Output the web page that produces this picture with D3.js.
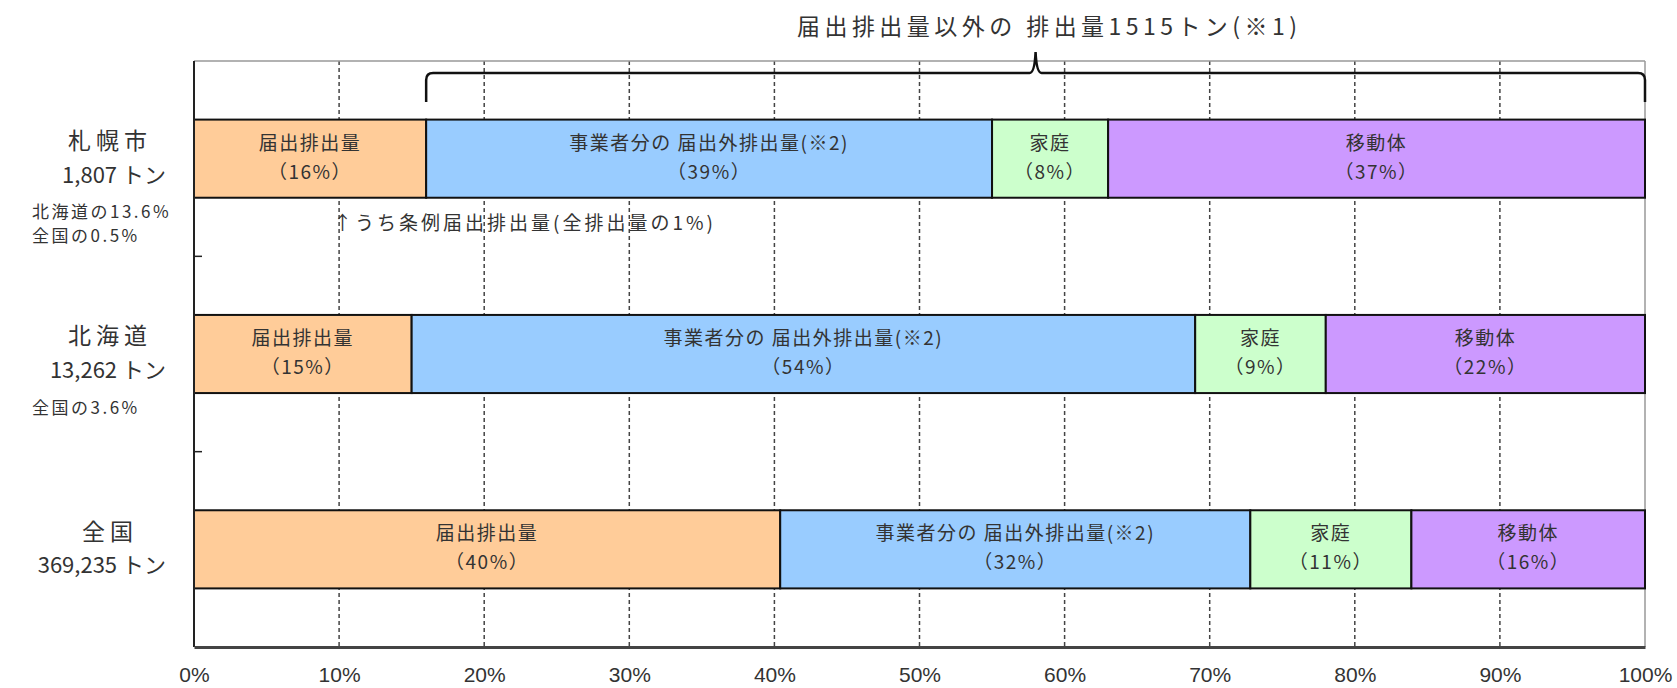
<!DOCTYPE html>
<html>
<head>
<meta charset="utf-8">
<script src="https://cdn.jsdelivr.net/npm/d3@7"></script>
<style>
body { margin: 0; background: #fff; }
text { font-family: "Noto Sans CJK JP", "Noto Sans", sans-serif; fill: #333; }
</style>
</head>
<body>
<div id="vis"></div>
<script>
var width = 1677,
    height = 688;

// data
var regions = ["札幌市", "北海道", "全国"];
var totals = ["1,807 トン", "13,262 トン", "369,235 トン"];
var notes = [["北海道の13.6%", "全国の0.5%"], ["全国の3.6%"], []];
var sources = ["届出排出量", "事業者分の 届出外排出量(※2)", "家庭", "移動体"];
var sapporo = [16, 39, 8, 37];
var hokkaido = [15, 54, 9, 22];
var zenkoku = [40.4, 32.4, 11.1, 16.1];
var tickValues = [0, 10, 20, 30, 40, 50, 60, 70, 80, 90, 100];
var bracketText = "届出排出量以外の 排出量1515トン(※1)";
var noteText = "↑うち条例届出排出量(全排出量の1%)";
var noteAt = 10;

var colors = ["#FFCC99", "#99CCFF", "#CCFFCC", "#CC99FF"];

var plotLeft = 194, plotRight = 1645, plotTop = 61, plotBottom = 647;

var svg = d3.select("#vis").append("svg")
    .attr("width", width)
    .attr("height", height);

var x = d3.scaleLinear().domain([0, 100]).range([plotLeft, plotRight]);
var y = d3.scaleBand().domain(regions).range([plotTop, plotBottom]).paddingInner(0.6).paddingOuter(0.3);

var rows = [sapporo, hokkaido, zenkoku];

// gridlines
svg.append("g")
    .selectAll("line")
    .data(tickValues.slice(1, -1))
    .enter().append("line")
    .attr("x1", d => x(d)).attr("x2", d => x(d))
    .attr("y1", plotTop).attr("y2", plotBottom)
    .style("stroke", "#444")
    .style("stroke-width", 1.5)
    .style("stroke-dasharray", "4,3");

// plot frame
svg.append("line").attr("x1", plotLeft).attr("x2", plotRight).attr("y1", plotTop).attr("y2", plotTop)
    .style("stroke", "#999").style("stroke-width", 1.5);
svg.append("line").attr("x1", plotRight).attr("x2", plotRight).attr("y1", plotTop).attr("y2", plotBottom)
    .style("stroke", "#999").style("stroke-width", 1.5);

// bars
rows.forEach(function(vals, r) {
    var start = 0;
    var segs = vals.map(function(v, i) {
        var s = {x0: start, x1: start + v, v: v, i: i};
        start += v;
        return s;
    });
    var g = svg.append("g");
    g.selectAll("rect")
        .data(segs)
        .enter().append("rect")
        .attr("x", d => x(d.x0))
        .attr("y", y(regions[r]))
        .attr("width", d => x(d.x1) - x(d.x0))
        .attr("height", y.bandwidth())
        .style("fill", d => colors[d.i])
        .style("stroke", "#111")
        .style("stroke-width", 2);

    var cy = y(regions[r]) + y.bandwidth() / 2;
    var lab = g.selectAll(".lab")
        .data(segs)
        .enter().append("text")
        .attr("class", "lab")
        .attr("text-anchor", "middle")
        .style("font-size", "19px")
        .style("letter-spacing", "1.5px");
    lab.append("tspan")
        .attr("x", d => (x(d.x0) + x(d.x1)) / 2)
        .attr("y", cy - 14)
        .attr("dominant-baseline", "middle")
        .text(d => sources[d.i]);
    lab.append("tspan")
        .attr("x", d => (x(d.x0) + x(d.x1)) / 2)
        .attr("y", cy + 15)
        .attr("dominant-baseline", "middle")
        .text(d => "（" + Math.round(d.v) + "%）");

    // region labels
    svg.append("text")
        .attr("x", 110).attr("y", cy - 16)
        .attr("text-anchor", "middle")
        .attr("dominant-baseline", "middle")
        .style("font-size", "23px")
        .style("letter-spacing", "5px")
        .text(regions[r]);
    svg.append("text")
        .attr("x", 166).attr("y", cy + 18)
        .attr("text-anchor", "end")
        .attr("dominant-baseline", "middle")
        .style("font-size", "22px")
        .text(totals[r]);
    notes[r].forEach(function(n, k) {
        svg.append("text")
            .attr("x", 32).attr("y", cy + 55 + k * 24)
            .attr("dominant-baseline", "middle")
            .style("font-size", "17px")
            .style("letter-spacing", "2.5px")
            .text(n);
    });
});

// left axis with inward ticks
svg.append("line").attr("x1", plotLeft).attr("x2", plotLeft).attr("y1", plotTop).attr("y2", plotBottom)
    .style("stroke", "#222").style("stroke-width", 2);
svg.selectAll(".ytick")
    .data(regions.slice(1))
    .enter().append("line")
    .attr("class", "ytick")
    .attr("x1", plotLeft).attr("x2", plotLeft + 8)
    .attr("y1", d => y(d) - (y.step() - y.bandwidth()) / 2)
    .attr("y2", d => y(d) - (y.step() - y.bandwidth()) / 2)
    .style("stroke", "#222").style("stroke-width", 1.5);

// bottom axis
var xAxis = d3.axisBottom(x)
    .tickValues(tickValues)
    .tickSize(0)
    .tickPadding(20)
    .tickFormat(d => d + "%");
var ax = svg.append("g")
    .attr("transform", "translate(0," + plotBottom + ")")
    .call(xAxis);
ax.select(".domain").style("stroke", "#444").style("stroke-width", 3);
ax.selectAll("text")
    .style("font-family", "'Liberation Sans', Arial, sans-serif")
    .style("font-size", "21px")
    .style("fill", "#333");

// bracket over non-reported emissions
var bx0 = x(sapporo[0]), bx1 = x(100), bm = (bx0 + bx1) / 2;
var by = 73, byEnd = 102, byPeak = 52;
var bracket = d3.path();
bracket.moveTo(bx0, byEnd);
bracket.lineTo(bx0, by + 7);
bracket.quadraticCurveTo(bx0, by, bx0 + 7, by);
bracket.lineTo(bm - 6, by);
bracket.quadraticCurveTo(bm - 1, by, bm, byPeak);
bracket.quadraticCurveTo(bm + 1, by, bm + 6, by);
bracket.lineTo(bx1 - 7, by);
bracket.quadraticCurveTo(bx1, by, bx1, by + 7);
bracket.lineTo(bx1, byEnd);
svg.append("path")
    .attr("d", bracket.toString())
    .style("fill", "none")
    .style("stroke", "#111")
    .style("stroke-width", 2.5);

svg.append("text")
    .attr("x", 797).attr("y", 29)
    .attr("dominant-baseline", "middle")
    .attr("textLength", 500)
    .attr("lengthAdjust", "spacing")
    .style("font-size", "23px")
    .text(bracketText);

// note under Sapporo
svg.append("text")
    .attr("x", x(noteAt) - 6)
    .attr("y", y(regions[0]) + y.bandwidth() + 27)
    .attr("dominant-baseline", "middle")
    .style("font-size", "19px")
    .style("letter-spacing", "3px")
    .text(noteText);
</script>
</body>
</html>
